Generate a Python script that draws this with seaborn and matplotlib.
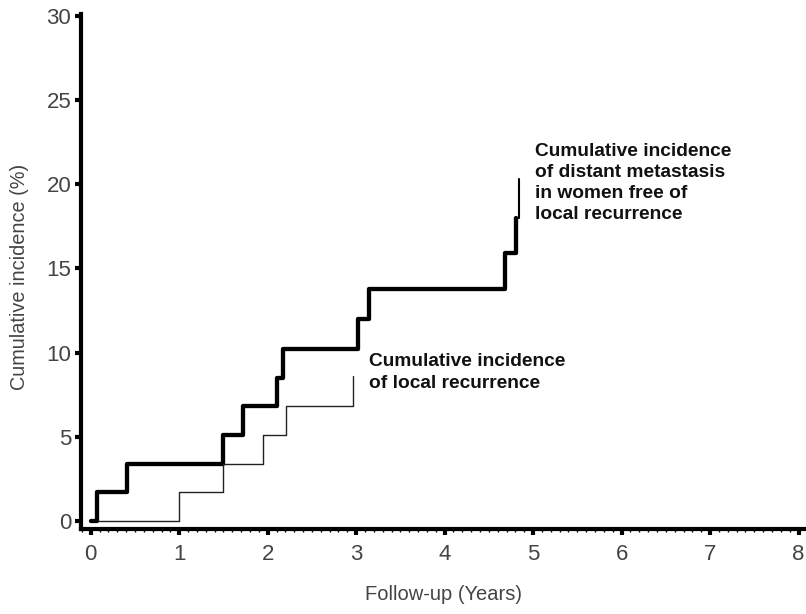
import seaborn as sns
import matplotlib.pyplot as plt
from matplotlib.ticker import MultipleLocator

# Step data
dm_years = [0.0, 0.07, 0.41, 1.49, 1.72, 2.11, 2.17, 3.02, 3.15, 4.68, 4.81]
dm_pct = [0.0, 1.7, 3.4, 5.1, 6.8, 8.5, 10.2, 12.0, 13.8, 15.9, 18.0]
dm_tail_years = [4.81, 4.84]
dm_tail_pct = [18.0, 20.3]

lr_years = [0.08, 1.0, 1.49, 1.95, 2.21, 2.96]
lr_pct = [0.0, 1.7, 3.4, 5.1, 6.8, 8.6]

x_ticks = [0, 1, 2, 3, 4, 5, 6, 7, 8]
y_ticks = [0, 5, 10, 15, 20, 25, 30]

label_dm = "Cumulative incidence\nof distant metastasis\nin women free of\nlocal recurrence"
label_lr = "Cumulative incidence\nof local recurrence"

sns.set_style('white')
plt.rcParams['font.family'] = ['Liberation Sans', 'DejaVu Sans']

fig = plt.figure(figsize=(8.06, 6.14), dpi=100)
ax = fig.add_axes([0.1005, 0.1384, 0.899, 0.8386])

# distant metastasis (thick) and local recurrence (thin)
sns.lineplot(x=dm_years, y=dm_pct, drawstyle='steps-post', estimator=None,
             color='black', linewidth=3.1, ax=ax)
sns.lineplot(x=dm_tail_years, y=dm_tail_pct, drawstyle='steps-post', estimator=None,
             color='black', linewidth=1.5, ax=ax)
sns.lineplot(x=lr_years, y=lr_pct, drawstyle='steps-post', estimator=None,
             color='#222222', linewidth=1.0, ax=ax)

ax.text(5.02, 22.45, label_dm, fontsize=13.8, fontweight='bold', va='top', ha='left',
        linespacing=1.32, color='#111111')
ax.text(3.15, 9.95, label_lr, fontsize=13.8, fontweight='bold', va='top', ha='left',
        linespacing=1.32, color='#111111')

ax.set_xlim(-0.11, 8.08)
ax.set_ylim(-0.48, 30.1)
ax.set_xticks(x_ticks)
ax.set_yticks(y_ticks)
ax.xaxis.set_minor_locator(MultipleLocator(0.1))

for s in ['top', 'right']:
    ax.spines[s].set_visible(False)
for s in ['left', 'bottom']:
    ax.spines[s].set_linewidth(3)
    ax.spines[s].set_color('black')

ax.tick_params(axis='both', which='major', direction='out', length=4, width=3,
               color='black', labelsize=16, labelcolor='#444444', pad=3,
               bottom=True, left=True)
ax.tick_params(axis='x', which='minor', direction='out', length=2.5, width=1,
               color='black', bottom=True)
ax.tick_params(axis='x', which='major', pad=7)

ax.set_xlabel('Follow-up (Years)', fontsize=14.5, color='#444444', labelpad=14)
ax.set_ylabel('Cumulative incidence (%)', fontsize=14.3, color='#444444')
ax.yaxis.set_label_coords(-0.072, 0.49)

plt.savefig('out.png', dpi=100)
